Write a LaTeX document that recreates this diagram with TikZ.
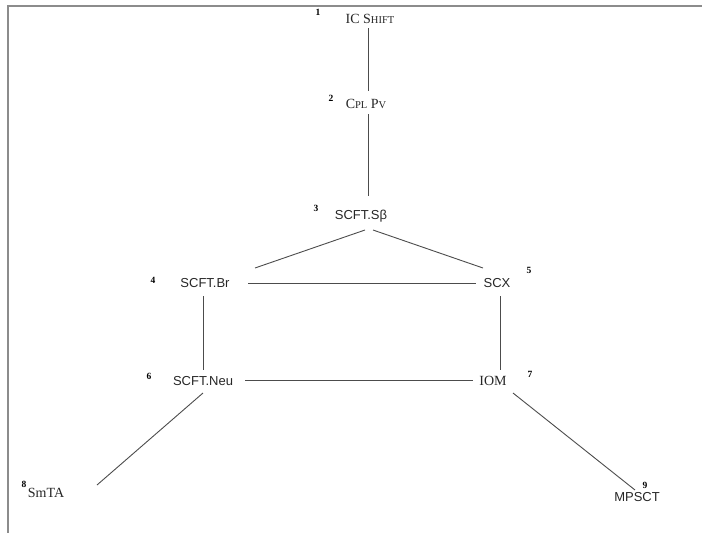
\documentclass[tikz,border=0pt]{standalone}
\usepackage{fontspec}
\setmainfont{Liberation Serif}
\setsansfont{Liberation Sans}
\usetikzlibrary{calc}
\begin{document}
\begin{tikzpicture}[x=1pt,y=-1pt,
  lbl/.style={inner sep=0pt, text=black!85, font=\fontsize{14}{16}\selectfont},
  slbl/.style={lbl, font=\sffamily\fontsize{13}{15}\selectfont},
  num/.style={inner sep=0pt, text=black, font=\bfseries\fontsize{9.5}{10}\selectfont},
  edge/.style={draw=black!70, line width=0.9pt}]
\useasboundingbox (0,0) rectangle (702,533);
\draw[black!45, line width=1.6pt] (8,533) -- (8,6) -- (702,6);
% main labels
\node[lbl]  (n1) at (370,19)  {IC S{\fontsize{10.5}{12}\selectfont HIFT}};
\node[lbl]  (n2) at (366,104) {C{\fontsize{10.5}{12}\selectfont PL} P{\fontsize{10.5}{12}\selectfont V}};
\node[slbl] (n3) at (361,216) {SCFT.Sβ};
\node[slbl] (n4) at (205,283) {SCFT.Br};
\node[slbl] (n5) at (497,283) {SCX};
\node[slbl] (n6) at (203,381) {SCFT.Neu};
\node[lbl]  (n7) at (493,381) {IOM};
\node[lbl]  (n8) at (46,493)  {SmTA};
\node[slbl] (n9) at (637,497) {MPSCT};
% numbers
\node[num] (l1) at (318,12)  {1};
\node[num] (l2) at (331,98)  {2};
\node[num] (l3) at (316,208) {3};
\node[num] (l4) at (153,280) {4};
\node[num] (l5) at (529,270) {5};
\node[num] (l6) at (149,376) {6};
\node[num] (l7) at (530,374) {7};
\node[num] (l8) at (24,484)  {8};
\node[num] (l9) at (645,485) {9};
% connectors
\draw[edge] ($(n1)+(-2,9)$)  -- ($(n2)+(2,-13)$);
\draw[edge] ($(n2)+(2,10)$)  -- ($(n3)+(7,-20)$);
\draw[edge] ($(n3)+(4,14)$)  -- ($(n4)+(50,-15)$);
\draw[edge] ($(n3)+(12,14)$) -- ($(n5)+(-14,-15)$);
\draw[edge] ($(n4)+(43,0)$)  -- ($(n5)+(-21,0)$);
\draw[edge] ($(n4)+(-2,13)$) -- ($(n6)+(0,-11)$);
\draw[edge] ($(n5)+(3,13)$)  -- ($(n7)+(7,-11)$);
\draw[edge] ($(n6)+(42,-1)$) -- ($(n7)+(-20,-1)$);
\draw[edge] ($(n6)+(0,12)$)  -- ($(n8)+(51,-8)$);
\draw[edge] ($(n7)+(20,12)$) -- ($(n9)+(-2,-7)$);
\end{tikzpicture}
\end{document}
